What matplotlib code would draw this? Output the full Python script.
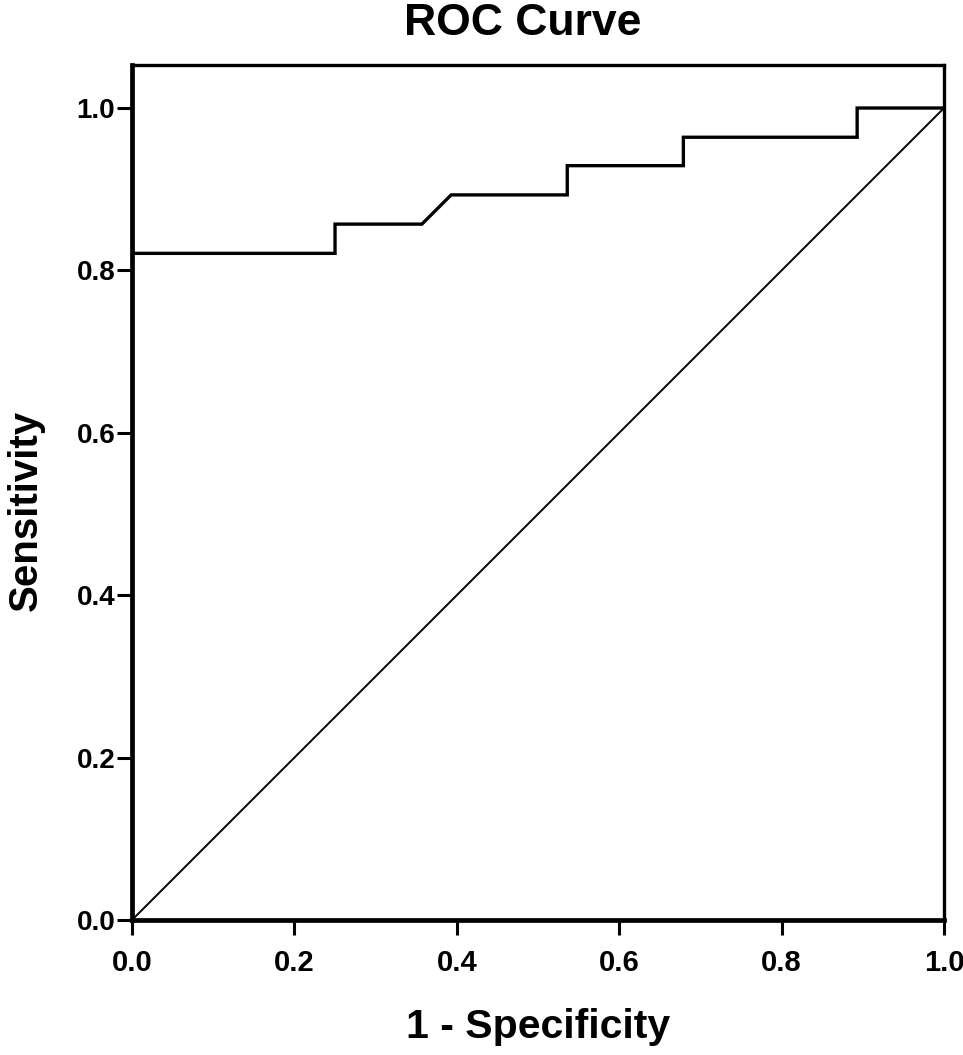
import matplotlib
matplotlib.use("Agg")
import matplotlib.pyplot as plt

# ROC curve points (1 - specificity, sensitivity)
fpr = [0.0, 0.0, 0.25, 0.25, 0.357, 0.393, 0.536, 0.536, 0.679, 0.679, 0.893, 0.893, 1.0]
tpr = [0.0, 0.821, 0.821, 0.857, 0.857, 0.893, 0.893, 0.929, 0.929, 0.964, 0.964, 1.0, 1.0]
ref_line = [0.0, 1.0]
ticks = [0.0, 0.2, 0.4, 0.6, 0.8, 1.0]

plt.rcParams['font.family'] = ['Liberation Sans', 'DejaVu Sans']
plt.rcParams['font.weight'] = 'bold'

fig = plt.figure(figsize=(9.63, 10.55), dpi=100)
ax = fig.add_axes([0.1371, 0.128, 0.8432, 0.8104])

ax.plot(fpr, tpr, color='black', linewidth=2.4, solid_joinstyle='miter')
ax.plot(ref_line, ref_line, color='black', linewidth=1.4)

ax.set_xlim(0, 1.0)
ax.set_ylim(0, 1.053)
ax.set_xticks(ticks)
ax.set_yticks(ticks)
ax.set_xticklabels([f"{t:.1f}" for t in ticks], fontsize=21, fontweight='bold')
ax.set_yticklabels([f"{t:.1f}" for t in ticks], fontsize=20, fontweight='bold')
ax.tick_params(axis='both', direction='out', length=11, width=2.2)
ax.tick_params(axis='x', pad=10)
ax.tick_params(axis='y', pad=1)
ax.tick_params(top=False, right=False)

for side in ['left', 'bottom']:
    ax.spines[side].set_linewidth(3.4)
for side in ['top', 'right']:
    ax.spines[side].set_linewidth(2.4)

ax.set_xlabel("1 - Specificity", fontsize=29.5, fontweight='bold', va='baseline')
ax.xaxis.set_label_coords(0.5, -0.138)
ax.set_ylabel("Sensitivity", fontsize=29, fontweight='bold', va='bottom')
ax.yaxis.set_label_coords(-0.108, 0.4795)

fig.text(0.543, 1 - 35 / 1055, "ROC Curve", fontsize=32, fontweight='bold',
         ha='center', va='baseline')

fig.savefig("out.png", dpi=100)
